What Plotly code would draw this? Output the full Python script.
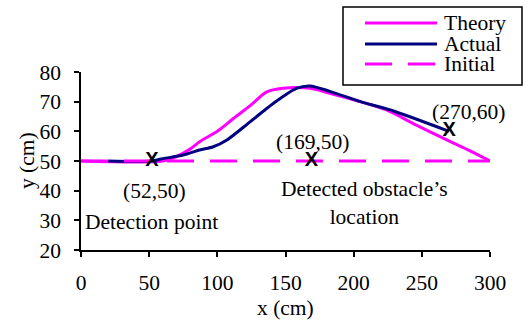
import plotly.graph_objects as go

# Data
theory_x = [0, 60, 70, 80, 87, 100, 112, 125, 136, 148, 168, 185, 205, 224, 246, 271, 285, 300]
theory_y = [50, 50, 51.5, 54, 56.5, 60, 64.4, 69, 73.2, 74.5, 74.5, 72.5, 70, 67.2, 62.1, 56.5, 53.5, 50]
actual_x = [20, 52, 60, 75, 87, 97, 107, 124, 141, 158, 168, 183, 205, 227, 270]
actual_y = [50, 50, 50.8, 52, 53.7, 54.8, 57.1, 63.2, 69.4, 74.5, 75.3, 73.4, 70, 67.2, 60]
initial_x = [0, 300]
initial_y = [50, 50]

mark_x = [52, 169, 270]
mark_y = [50, 50, 60]

label_text = ["(52,50)", "Detection point", "(169,50)", "Detected obstacle\u2019s<br>location", "(270,60)"]
label_x = [54, 51.5, 170, 208, 284]
label_y = [40, 29.6, 56.5, 35.7, 66.6]

x_ticks = [0, 50, 100, 150, 200, 250, 300]
y_ticks = [20, 30, 40, 50, 60, 70, 80]

MAGENTA = "#FF00FF"
NAVY = "#000080"
SERIF = "Liberation Serif, Times New Roman, serif"
FS = 21.5

L, R, T, B = 81, 490, 72, 250
W, H = R - L, B - T
def px(xp):
    return (xp - L) / W
def py(yp):
    return (B - yp) / H

fig = go.Figure()
fig.add_trace(go.Scatter(x=theory_x, y=theory_y, mode="lines", name="Theory",
                         line=dict(color=MAGENTA, width=3, shape="spline", smoothing=0.8),
                         showlegend=False))
fig.add_trace(go.Scatter(x=actual_x, y=actual_y, mode="lines", name="Actual",
                         line=dict(color=NAVY, width=3, shape="spline", smoothing=0.8),
                         showlegend=False))
fig.add_trace(go.Scatter(x=initial_x, y=initial_y, mode="lines", name="Initial",
                         line=dict(color=MAGENTA, width=3, dash="27px,16px"),
                         showlegend=False))
fig.add_trace(go.Scatter(x=mark_x, y=mark_y, mode="text", text=["X"] * len(mark_x),
                         textfont=dict(family="Liberation Sans, Arial, sans-serif", size=20, color="black"),
                         textposition="middle center", showlegend=False,
                         texttemplate="<b>X</b>"))

annotations = []
for t, x, y in zip(label_text, label_x, label_y):
    annotations.append(dict(x=x, y=y, xref="x", yref="y", text=t, showarrow=False,
                            font=dict(family=SERIF, size=FS, color="black")))

# Axis titles
annotations.append(dict(xref="paper", yref="paper", x=px(285), y=py(308), text="x (cm)",
                        showarrow=False, xanchor="center", yanchor="middle",
                        font=dict(family=SERIF, size=FS, color="black")))
annotations.append(dict(xref="paper", yref="paper", x=px(27), y=py(161), text="y (cm)",
                        showarrow=False, xanchor="center", yanchor="middle", textangle=-90,
                        font=dict(family=SERIF, size=FS, color="black")))

# Custom legend
shapes = [
    dict(type="rect", xref="paper", yref="paper", x0=px(343), x1=px(522), y0=py(85), y1=py(7),
         line=dict(color="black", width=1.5), fillcolor="white", layer="above"),
]
legend_items = [("Theory", MAGENTA, "solid", 23), ("Actual", NAVY, "solid", 44), ("Initial", MAGENTA, "27px,16px", 64)]
for name, col, dash, yy in legend_items:
    shapes.append(dict(type="line", xref="paper", yref="paper", x0=px(365), x1=px(437),
                       y0=py(yy), y1=py(yy), line=dict(color=col, width=3, dash=dash), layer="above"))
    annotations.append(dict(xref="paper", yref="paper", x=px(442), y=py(yy), text=name,
                            xanchor="left", yanchor="middle", showarrow=False,
                            font=dict(family=SERIF, size=FS, color="black")))

fig.update_layout(
    width=525, height=322,
    margin=dict(l=L, r=525 - R, t=T, b=322 - B, autoexpand=False),
    paper_bgcolor="white", plot_bgcolor="white",
    font=dict(family=SERIF, size=FS, color="black"),
    shapes=shapes, annotations=annotations,
    xaxis=dict(range=[0, 300], tickvals=x_ticks, showgrid=False, zeroline=False,
               showline=True, linecolor="black", linewidth=1.5, automargin=False,
               ticks="outside", ticklen=5, tickwidth=1.5, tickcolor="black",
               ticklabelstandoff=7),
    yaxis=dict(range=[20, 80], tickvals=y_ticks, showgrid=False, zeroline=False,
               showline=True, linecolor="black", linewidth=1.5, automargin=False,
               ticks="outside", ticklen=5, tickwidth=1.5, tickcolor="black",
               ticklabelstandoff=9),
)

fig.write_html("out.html", config={"displayModeBar": False},
               post_script="document.body.style.margin='0';document.body.style.overflow='hidden';")
